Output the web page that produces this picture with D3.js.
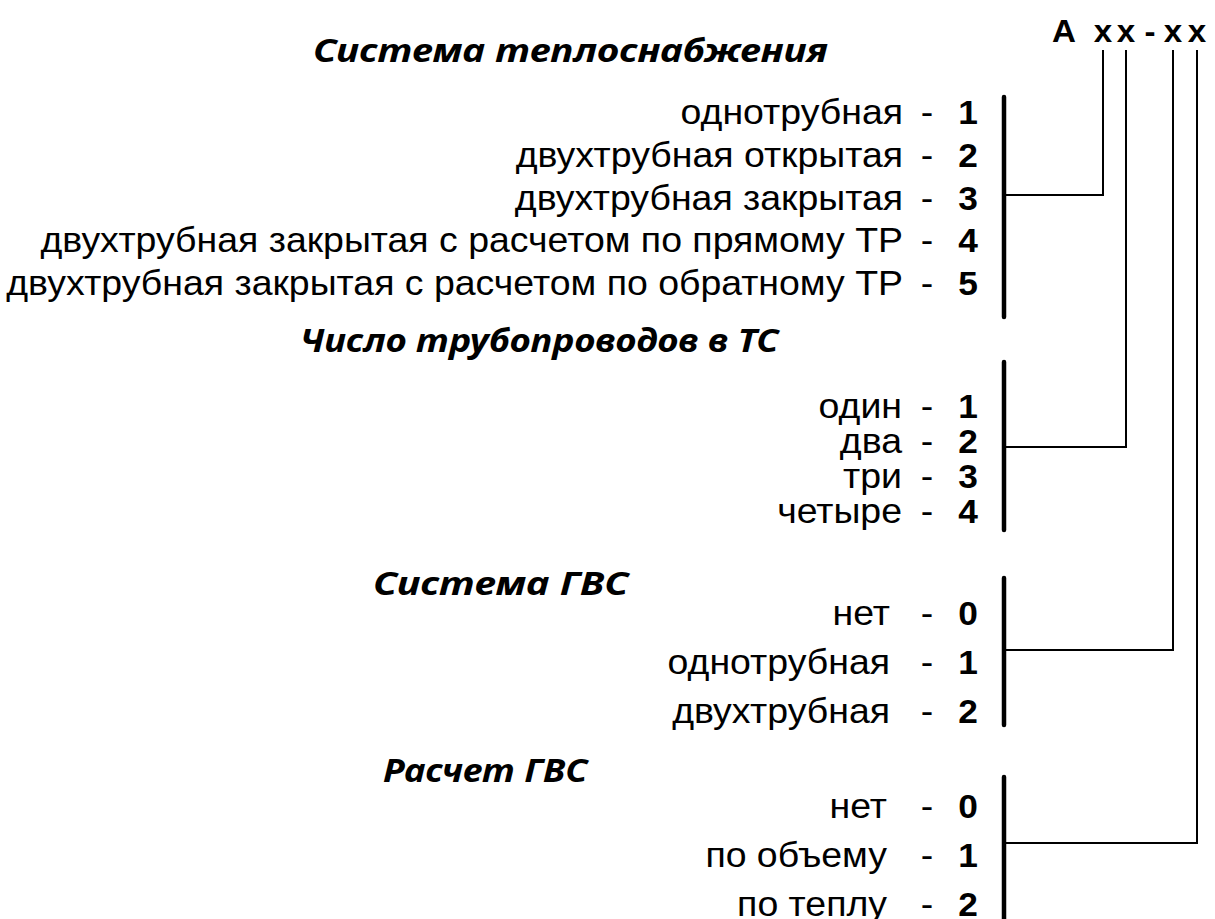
<!DOCTYPE html>
<html><head><meta charset="utf-8">
<script src="https://cdn.jsdelivr.net/npm/d3@7"></script>
<style>body{margin:0;background:#fff}svg{display:block}</style>
</head><body>
<svg id="c" width="1215" height="919"></svg>
<script>
// ---- data ----
const codeChars = ["A", "x", "x", "-", "x", "x"];
const groupTitles = ["Система теплоснабжения", "Число трубопроводов в ТС", "Система ГВС", "Расчет ГВС"];
const heatLabels = ["однотрубная", "двухтрубная открытая", "двухтрубная закрытая",
  "двухтрубная закрытая с расчетом по прямому ТР", "двухтрубная закрытая с расчетом по обратному ТР"];
const heatCodes = ["1", "2", "3", "4", "5"];
const pipeLabels = ["один", "два", "три", "четыре"];
const pipeCodes = ["1", "2", "3", "4"];
const hwsLabels = ["нет", "однотрубная", "двухтрубная"];
const hwsCodes = ["0", "1", "2"];
const calcLabels = ["нет", "по объему", "по теплу"];
const calcCodes = ["0", "1", "2"];

// ---- layout ----
const groups = [
  {title: groupTitles[0], labels: heatLabels, codes: heatCodes, titleX: 313, titleY: 62, titleW: 515,
   rowTop: 112, rowBot: 283, barTop: 97, barBot: 317, connY: 195, codeIdx: 1, labelRight: 903},
  {title: groupTitles[1], labels: pipeLabels, codes: pipeCodes, titleX: 300, titleY: 352, titleW: 478,
   rowTop: 406, rowBot: 511, barTop: 362, barBot: 530, connY: 447, codeIdx: 2, labelRight: 902},
  {title: groupTitles[2], labels: hwsLabels, codes: hwsCodes, titleX: 373, titleY: 595, titleW: 255,
   rowTop: 613, rowBot: 711, barTop: 578, barBot: 725, connY: 650, codeIdx: 4, labelRight: 890},
  {title: groupTitles[3], labels: calcLabels, codes: calcCodes, titleX: 383, titleY: 782, titleW: 204,
   rowTop: 806, rowBot: 904, barTop: 777, barBot: 925, connY: 843, codeIdx: 5, labelRight: 887}
];

const svg = d3.select("#c");
const font = "'Liberation Sans', Arial, sans-serif";
const titleFont = "'Noto Sans', 'Liberation Sans', sans-serif";
const codePos = [1064, 1103, 1126, 1150, 1173, 1197];
const barX = 1004, dashX = 927, digitX = 968, sx = 1.07;

// header
svg.append("g").selectAll("text").data(codeChars).join("text")
  .attr("transform", (d, i) => `translate(${codePos[i]},42) scale(${sx},1)`)
  .attr("text-anchor", "middle")
  .attr("font-family", font).attr("font-weight", "bold").attr("font-size", 31)
  .text(d => d);

groups.forEach(g => {
  const y = d3.scaleLinear().domain([0, g.labels.length - 1]).range([g.rowTop, g.rowBot]);
  const gg = svg.append("g");
  gg.append("text").attr("x", g.titleX).attr("y", g.titleY)
    .attr("font-family", titleFont).attr("font-weight", "bold").attr("font-style", "italic")
    .attr("font-size", 33).attr("textLength", g.titleW).attr("lengthAdjust", "spacingAndGlyphs")
    .text(g.title);
  gg.selectAll("text.lab").data(g.labels).join("text").attr("class", "lab")
    .attr("transform", (d, i) => `translate(${g.labelRight},${y(i) + 12}) scale(${sx},1)`)
    .attr("text-anchor", "end").attr("font-family", font).attr("font-size", 35)
    .text(d => d);
  gg.selectAll("text.dash").data(g.labels).join("text").attr("class", "dash")
    .attr("transform", (d, i) => `translate(${dashX},${y(i) + 12}) scale(${sx},1)`)
    .attr("text-anchor", "middle").attr("font-family", font).attr("font-size", 35)
    .text("-");
  gg.selectAll("text.code").data(g.codes).join("text").attr("class", "code")
    .attr("transform", (d, i) => `translate(${digitX},${y(i) + 12}) scale(${sx},1)`)
    .attr("text-anchor", "middle").attr("font-family", font).attr("font-weight", "bold")
    .attr("font-size", 33).text(d => d);
  gg.append("line").attr("x1", barX).attr("x2", barX).attr("y1", g.barTop).attr("y2", g.barBot)
    .attr("stroke", "#000").attr("stroke-width", 4.5).attr("stroke-linecap", "round");
  const cx = codePos[g.codeIdx];
  gg.append("path").attr("d", `M${barX},${g.connY}H${cx}V50`)
    .attr("fill", "none").attr("stroke", "#000").attr("stroke-width", 2);
});
</script>
</body></html>
